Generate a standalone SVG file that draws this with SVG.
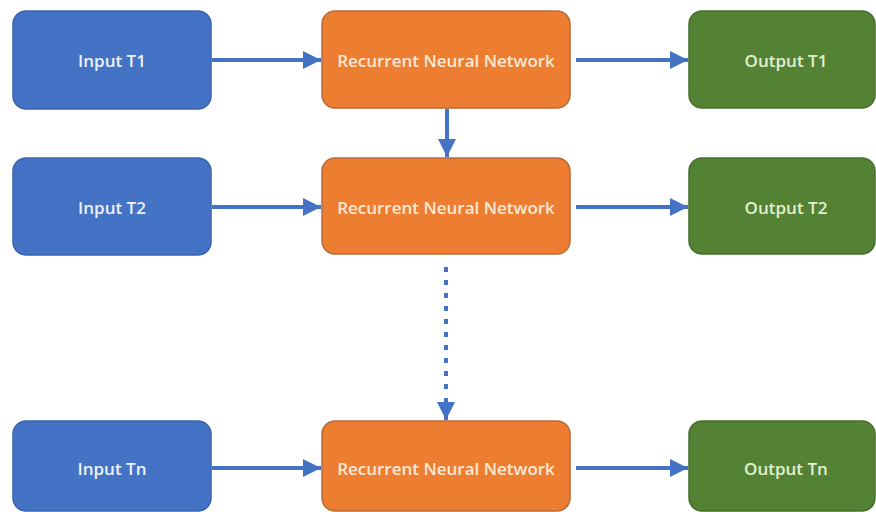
<svg xmlns="http://www.w3.org/2000/svg" width="876" height="512" viewBox="0 0 876 512">
<style>
.in{fill:#4472C4;stroke:#3A64B0;stroke-width:1.5}
.rnn{fill:#ED7D31;stroke:#B86A3A;stroke-width:1.5}
.out{fill:#548235;stroke:#466E2C;stroke-width:1.5}
text{font-family:"Open Sans","Liberation Sans",sans-serif;font-size:17px;font-weight:600;text-anchor:middle;dominant-baseline:central}
.ti{fill:#EEF2FA}
.tr{fill:#FBE9D6}
.to{fill:#E2F0D0}
.c{stroke:#4472C4;stroke-width:4;fill:none}
</style>
<defs>
<marker id="ah" viewBox="0 0 10 10" refX="10" refY="5" markerWidth="4.5" markerHeight="4.5" orient="auto" markerUnits="strokeWidth">
<path d="M0,0L10,5L0,10z" fill="#4472C4"/>
</marker>
</defs>
<g id="connectors">
<line class="c" x1="212" y1="60" x2="321" y2="60" marker-end="url(#ah)"/>
<line class="c" x1="576" y1="60" x2="688" y2="60" marker-end="url(#ah)"/>
<line class="c" x1="447" y1="109" x2="447" y2="157" marker-end="url(#ah)"/>
<line class="c" x1="212" y1="207" x2="321" y2="207" marker-end="url(#ah)"/>
<line class="c" x1="576" y1="207" x2="688" y2="207" marker-end="url(#ah)"/>
<line class="c" x1="446" y1="267" x2="446" y2="397" stroke-width="5" stroke-dasharray="5,8"/>
<line class="c" x1="446" y1="398" x2="446" y2="420" marker-end="url(#ah)"/>
<line class="c" x1="212" y1="468" x2="321" y2="468" marker-end="url(#ah)"/>
<line class="c" x1="576" y1="468" x2="688" y2="468" marker-end="url(#ah)"/>
</g>
<g id="input1"><rect class="in" x="13" y="11" width="198" height="98" rx="13"/><text class="ti" x="112" y="60">Input T1</text></g>
<g id="rnn1"><rect class="rnn" x="322" y="11" width="248" height="97" rx="13"/><text class="tr" x="446" y="60">Recurrent Neural Network</text></g>
<g id="output1"><rect class="out" x="689" y="11" width="186" height="97" rx="13"/><text class="to" x="786" y="60">Output T1</text></g>
<g id="input2"><rect class="in" x="13" y="158" width="198" height="97" rx="13"/><text class="ti" x="112" y="207">Input T2</text></g>
<g id="rnn2"><rect class="rnn" x="322" y="158" width="248" height="96" rx="13"/><text class="tr" x="446" y="207">Recurrent Neural Network</text></g>
<g id="output2"><rect class="out" x="689" y="158" width="186" height="96" rx="13"/><text class="to" x="786" y="207">Output T2</text></g>
<g id="inputn"><rect class="in" x="13" y="421" width="198" height="90" rx="13"/><text class="ti" x="112" y="468">Input Tn</text></g>
<g id="rnnn"><rect class="rnn" x="322" y="421" width="248" height="90" rx="13"/><text class="tr" x="446" y="468">Recurrent Neural Network</text></g>
<g id="outputn"><rect class="out" x="689" y="421" width="186" height="90" rx="13"/><text class="to" x="786" y="468">Output Tn</text></g>
</svg>
